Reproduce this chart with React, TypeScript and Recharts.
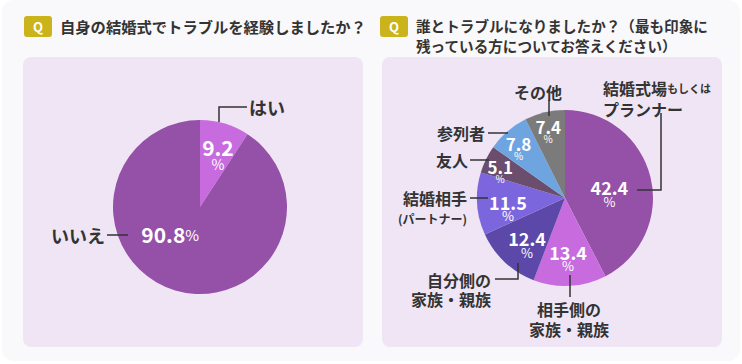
import { PieChart, Pie, Cell } from 'recharts';

// Q1: 自身の結婚式でトラブルを経験しましたか？
const q1Categories = ['はい', 'いいえ'];
const q1Values = [9.2, 90.8];

// Q2: 誰とトラブルになりましたか？
const q2Categories = [
  '結婚式場もしくはプランナー',
  '相手側の家族・親族',
  '自分側の家族・親族',
  '結婚相手（パートナー）',
  '友人',
  '参列者',
  'その他',
];
const q2Values = [42.4, 13.4, 12.4, 11.5, 5.1, 7.8, 7.4];

const q1Colors = ['#c76bdf', '#9550a8'];
const q2Colors = ['#9550a8', '#c76bdf', '#5b48a8', '#7c66dd', '#6b4d6d', '#6ea5e0', '#7b7b7b'];

const FONT = '"Noto Sans CJK JP", "Noto Sans", sans-serif';
const INK = '#333333';

type Part = [string, number];
interface LabelLayout {
  rf: number; // value label radius as fraction of outerRadius
  angle?: number; // override for the value label angle
  numSize: number;
  pctSize: number;
  pctGap: number;
  inline?: boolean;
  leader: [number, number][]; // offsets from pie centre
  anchor: 'start' | 'middle' | 'end';
  tx: number;
  lines: { parts: Part[]; y: number }[];
}

const q1Layout: LabelLayout[] = [
  {
    rf: 0.724, numSize: 21, pctSize: 14, pctGap: 17,
    leader: [[19, -85], [19, -100], [47, -100]],
    anchor: 'start', tx: 49,
    lines: [{ parts: [['はい', 18]], y: -100 }],
  },
  {
    rf: 0.46, angle: 222, numSize: 21, pctSize: 15, pctGap: 0, inline: true,
    leader: [[-93, 28], [-72, 28]],
    anchor: 'end', tx: -95,
    lines: [{ parts: [['いいえ', 18]], y: 28 }],
  },
];

const q2Layout: LabelLayout[] = [
  {
    rf: 0.52, angle: 14, numSize: 18, pctSize: 13, pctGap: 15,
    leader: [[72, -8], [96, -8], [96, -85]],
    anchor: 'start', tx: 38,
    lines: [
      { parts: [['結婚式場', 16], ['もしくは', 11]], y: -110 },
      { parts: [['プランナー', 16]], y: -89 },
    ],
  },
  {
    rf: 0.61, numSize: 18, pctSize: 13, pctGap: 14,
    leader: [[5, 77], [5, 99]],
    anchor: 'middle', tx: 4,
    lines: [
      { parts: [['相手側の', 16]], y: 111 },
      { parts: [['家族・親族', 16]], y: 131 },
    ],
  },
  {
    rf: 0.63, numSize: 18, pctSize: 13, pctGap: 14,
    leader: [[-47, 65], [-47, 81], [-70, 81]],
    anchor: 'end', tx: -74,
    lines: [
      { parts: [['自分側の', 16]], y: 82 },
      { parts: [['家族・親族', 16]], y: 101 },
    ],
  },
  {
    rf: 0.65, numSize: 18, pctSize: 13, pctGap: 14,
    leader: [[-95, 0], [-77, 0]],
    anchor: 'end', tx: -98,
    lines: [
      { parts: [['結婚相手', 16]], y: 0 },
      { parts: [['(パートナー)', 12]], y: 20 },
    ],
  },
  {
    rf: 0.82, numSize: 17, pctSize: 10, pctGap: 12,
    leader: [[-95, -38], [-76, -38]],
    anchor: 'end', tx: -97,
    lines: [{ parts: [['友人', 16]], y: -38 }],
  },
  {
    rf: 0.81, numSize: 17, pctSize: 10, pctGap: 12,
    leader: [[-77, -65], [-57, -65]],
    anchor: 'end', tx: -80,
    lines: [{ parts: [['参列者', 16]], y: -65 }],
  },
  {
    rf: 0.83, numSize: 17, pctSize: 10, pctGap: 12,
    leader: [[-16, -98], [-16, -82]],
    anchor: 'middle', tx: -27,
    lines: [{ parts: [['その他', 16]], y: -106 }],
  },
];

const RAD = Math.PI / 180;

function makeLabel(layouts: LabelLayout[]) {
  return (props: any) => {
    const { cx, cy, midAngle, outerRadius, index, value } = props;
    const l = layouts[index];
    const ang = l.angle ?? midAngle;
    const r = outerRadius * l.rf;
    const x = cx + Math.cos(-ang * RAD) * r;
    const y = cy + Math.sin(-ang * RAD) * r;
    const pts = l.leader.map(([dx, dy]) => `${cx + dx},${cy + dy}`).join(' ');
    return (
      <g key={`lbl-${index}`} style={{ fontFamily: FONT }}>
        {l.inline ? (
          <text x={x} y={y} textAnchor="middle" dominantBaseline="central" fill="#fff">
            <tspan fontSize={l.numSize} fontWeight={700}>{value.toFixed(1)}</tspan>
            <tspan fontSize={l.pctSize}>%</tspan>
          </text>
        ) : (
          <>
            <text x={x} y={y} textAnchor="middle" dominantBaseline="central" fill="#fff"
              fontSize={l.numSize} fontWeight={700}>
              {value.toFixed(1)}
            </text>
            <text x={x} y={y + l.pctGap} textAnchor="middle" dominantBaseline="central" fill="#fff"
              fontSize={l.pctSize}>
              %
            </text>
          </>
        )}
        <polyline points={pts} fill="none" stroke={INK} strokeWidth={1.5} />
        {l.lines.map((ln, i) => (
          <text key={i} x={cx + l.tx} y={cy + ln.y} textAnchor={l.anchor} dominantBaseline="central"
            fill={INK} fontWeight={700}>
            {ln.parts.map(([t, s], j) => (
              <tspan key={j} fontSize={s}>{t}</tspan>
            ))}
          </text>
        ))}
      </g>
    );
  };
}

const q1Data = q1Categories.map((name, i) => ({ name, value: q1Values[i] }));
const q2Data = q2Categories.map((name, i) => ({ name, value: q2Values[i] }));

const noMargin = { top: 0, right: 0, bottom: 0, left: 0 };

function Badge({ left }: { left: number }) {
  return (
    <div style={{
      position: 'absolute', left, top: 16, width: 28, height: 21, borderRadius: 3,
      background: '#cbb31b', color: '#fff', fontWeight: 700, fontSize: 13,
      display: 'flex', alignItems: 'center', justifyContent: 'center',
    }}>Q</div>
  );
}

const panelStyle: React.CSSProperties = {
  position: 'absolute', top: 57, width: 340, height: 290,
  background: '#efe5f5', borderRadius: 8,
};

export default function App() {
  return (
    <div style={{
      position: 'absolute', left: 0, top: 0, width: 742, height: 364,
      background: '#ffffff', fontFamily: FONT, overflow: 'hidden',
    }}>
      <div style={{
        position: 'absolute', left: 2, top: 0, width: 738, height: 361,
        background: '#f9f8fa', borderRadius: 12,
      }} />
      <Badge left={24} />
      <div style={{
        position: 'absolute', left: 60, top: 16, height: 21, lineHeight: '21px',
        fontSize: 15.3, fontWeight: 700, color: INK, whiteSpace: 'nowrap',
      }}>
        自身の結婚式でトラブルを経験しましたか？
      </div>
      <Badge left={380} />
      <div style={{
        position: 'absolute', left: 416, top: 16, lineHeight: '20px',
        fontSize: 14.6, fontWeight: 700, color: INK, whiteSpace: 'nowrap',
      }}>
        誰とトラブルになりましたか？（最も印象に<br />残っている方についてお答えください）
      </div>

      <div style={{ ...panelStyle, left: 23 }}>
        <PieChart width={340} height={290} margin={noMargin}>
          <Pie
            data={q1Data}
            dataKey="value"
            nameKey="name"
            cx={177}
            cy={150}
            outerRadius={87}
            startAngle={90}
            endAngle={-270}
            stroke="none"
            isAnimationActive={false}
            labelLine={false}
            label={makeLabel(q1Layout)}
          >
            {q1Data.map((d, i) => (
              <Cell key={`q1-${i}`} fill={q1Colors[i]} />
            ))}
          </Pie>
        </PieChart>
      </div>

      <div style={{ ...panelStyle, left: 382 }}>
        <PieChart width={340} height={290} margin={noMargin}>
          <Pie
            data={q2Data}
            dataKey="value"
            nameKey="name"
            cx={183}
            cy={141}
            outerRadius={88}
            startAngle={90}
            endAngle={-270}
            stroke="none"
            isAnimationActive={false}
            labelLine={false}
            label={makeLabel(q2Layout)}
          >
            {q2Data.map((d, i) => (
              <Cell key={`q2-${i}`} fill={q2Colors[i]} />
            ))}
          </Pie>
        </PieChart>
      </div>
    </div>
  );
}
